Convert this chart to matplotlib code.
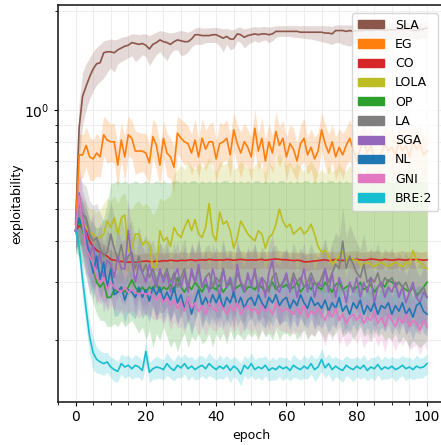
import matplotlib
matplotlib.use("Agg")
import matplotlib.pyplot as plt
import matplotlib.ticker as mticker
from matplotlib.patches import Patch
import numpy as np

epochs = list(range(0, 101))
labels = ["SLA", "EG", "CO", "LOLA", "OP", "LA", "SGA", "NL", "GNI", "BRE:2"]
colors = ["#8c564b", "#ff7f0e", "#d62728", "#bcbd22", "#2ca02c",
          "#7f7f7f", "#9467bd", "#1f77b4", "#e377c2", "#17becf"]

SLA = [0.45, 0.88, 1.10, 1.18, 1.26, 1.33, 1.38, 1.39, 1.49, 1.50,
       1.50, 1.49, 1.52, 1.54, 1.56, 1.57, 1.60, 1.59, 1.58, 1.59,
       1.57, 1.53, 1.58, 1.60, 1.63, 1.61, 1.60, 1.58, 1.61, 1.63,
       1.62, 1.61, 1.61, 1.64, 1.69, 1.69, 1.68, 1.68, 1.68, 1.69,
       1.69, 1.67, 1.65, 1.67, 1.64, 1.64, 1.70, 1.69, 1.66, 1.68,
       1.69, 1.70, 1.69, 1.70, 1.70, 1.69, 1.70, 1.73, 1.73, 1.73,
       1.73, 1.73, 1.73, 1.73, 1.72, 1.72, 1.72, 1.72, 1.72, 1.72,
       1.72, 1.71, 1.71, 1.70, 1.74, 1.74, 1.74, 1.73, 1.74, 1.73,
       1.74, 1.74, 1.74, 1.75, 1.74, 1.75, 1.75, 1.75, 1.74, 1.75,
       1.75, 1.75, 1.76, 1.75, 1.76, 1.76, 1.75, 1.74, 1.75, 1.76,
       1.77]
SLA_lo = [0.38, 0.70, 0.90, 1.00, 1.08, 1.14, 1.19, 1.22, 1.25, 1.30,
          1.34, 1.30, 1.38, 1.40, 1.42, 1.44, 1.46, 1.40, 1.43, 1.47,
          1.45, 1.36, 1.42, 1.47, 1.50, 1.45, 1.41, 1.48, 1.52, 1.52,
          1.46, 1.47, 1.50, 1.55, 1.58, 1.58, 1.58, 1.60, 1.60, 1.60,
          1.60, 1.56, 1.50, 1.58, 1.52, 1.54, 1.62, 1.60, 1.54, 1.58,
          1.60, 1.62, 1.60, 1.62, 1.63, 1.60, 1.62, 1.66, 1.67, 1.67,
          1.67, 1.67, 1.66, 1.66, 1.65, 1.65, 1.64, 1.64, 1.63, 1.62,
          1.61, 1.60, 1.59, 1.58, 1.60, 1.60, 1.58, 1.57, 1.56, 1.58,
          1.60, 1.62, 1.63, 1.64, 1.63, 1.64, 1.65, 1.64, 1.63, 1.64,
          1.64, 1.65, 1.66, 1.65, 1.66, 1.66, 1.65, 1.63, 1.64, 1.65,
          1.66]
SLA_hi = [0.52, 1.05, 1.30, 1.38, 1.44, 1.50, 1.55, 1.58, 1.62, 1.63,
          1.64, 1.63, 1.64, 1.66, 1.67, 1.68, 1.70, 1.70, 1.69, 1.70,
          1.70, 1.68, 1.70, 1.72, 1.74, 1.73, 1.72, 1.71, 1.72, 1.73,
          1.74, 1.73, 1.72, 1.74, 1.77, 1.78, 1.77, 1.77, 1.77, 1.78,
          1.78, 1.77, 1.76, 1.77, 1.75, 1.75, 1.78, 1.78, 1.76, 1.77,
          1.78, 1.79, 1.78, 1.79, 1.79, 1.78, 1.79, 1.80, 1.80, 1.80,
          1.80, 1.80, 1.80, 1.80, 1.80, 1.80, 1.80, 1.80, 1.80, 1.80,
          1.80, 1.80, 1.80, 1.79, 1.81, 1.81, 1.81, 1.81, 1.81, 1.81,
          1.82, 1.82, 1.82, 1.82, 1.82, 1.83, 1.83, 1.83, 1.82, 1.83,
          1.83, 1.83, 1.84, 1.83, 1.84, 1.84, 1.83, 1.83, 1.84, 1.85,
          1.86]

EG = [0.43, 0.73, 0.73, 0.78, 0.72, 0.71, 0.74, 0.72, 0.84, 0.81,
      0.80, 0.80, 0.68, 0.81, 0.72, 0.84, 0.82, 0.75, 0.75, 0.75,
      0.74, 0.69, 0.83, 0.78, 0.68, 0.82, 0.74, 0.72, 0.67, 0.85,
      0.82, 0.80, 0.79, 0.74, 0.81, 0.72, 0.82, 0.76, 0.80, 0.80,
      0.71, 0.79, 0.80, 0.82, 0.73, 0.87, 0.79, 0.74, 0.80, 0.77,
      0.72, 0.88, 0.75, 0.82, 0.70, 0.80, 0.74, 0.86, 0.78, 0.82,
      0.72, 0.79, 0.76, 0.70, 0.79, 0.82, 0.73, 0.77, 0.71, 0.75,
      0.87, 0.79, 0.74, 0.80, 0.72, 0.77, 0.73, 0.78, 0.82, 0.76,
      0.70, 0.76, 0.81, 0.74, 0.78, 0.71, 0.69, 0.74, 0.79, 0.75,
      0.77, 0.73, 0.80, 0.75, 0.78, 0.72, 0.80, 0.76, 0.79, 0.73,
      0.75]
EG_err = [0.06, 0.16, 0.15, 0.14, 0.15, 0.14, 0.15, 0.13, 0.14, 0.15,
          0.13, 0.14, 0.15, 0.13, 0.16, 0.14, 0.13, 0.15, 0.14, 0.13,
          0.15, 0.14, 0.13, 0.16, 0.14, 0.13, 0.15, 0.14, 0.16, 0.13,
          0.14, 0.15, 0.13, 0.14, 0.16, 0.13, 0.15, 0.14, 0.13, 0.15,
          0.14, 0.16, 0.13, 0.14, 0.15, 0.13, 0.14, 0.16, 0.14, 0.13,
          0.15, 0.14, 0.13, 0.15, 0.16, 0.14, 0.13, 0.15, 0.14, 0.13,
          0.15, 0.14, 0.16, 0.13, 0.14, 0.15, 0.13, 0.14, 0.16, 0.14,
          0.13, 0.15, 0.14, 0.13, 0.15, 0.14, 0.16, 0.13, 0.14, 0.15,
          0.14, 0.13, 0.15, 0.14, 0.16, 0.13, 0.14, 0.15, 0.13, 0.14,
          0.15, 0.14, 0.13, 0.15, 0.14, 0.16, 0.13, 0.14, 0.15, 0.14,
          0.13]

CO = [0.43, 0.445, 0.44, 0.43, 0.40, 0.385, 0.375, 0.37, 0.365, 0.36,
      0.352, 0.35, 0.348, 0.347, 0.346, 0.345, 0.346, 0.345, 0.346, 0.347,
      0.348, 0.347, 0.346, 0.348, 0.347, 0.349, 0.348, 0.350, 0.349, 0.348,
      0.350, 0.349, 0.350, 0.351, 0.349, 0.350, 0.351, 0.350, 0.352, 0.351,
      0.350, 0.351, 0.350, 0.352, 0.351, 0.350, 0.351, 0.352, 0.351, 0.350,
      0.351, 0.350, 0.351, 0.352, 0.350, 0.351, 0.352, 0.353, 0.352, 0.351,
      0.351, 0.350, 0.349, 0.350, 0.349, 0.346, 0.346, 0.347, 0.348, 0.349,
      0.350, 0.351, 0.349, 0.350, 0.352, 0.350, 0.349, 0.351, 0.352, 0.351,
      0.352, 0.351, 0.350, 0.351, 0.353, 0.352, 0.351, 0.350, 0.352, 0.351,
      0.350, 0.351, 0.352, 0.351, 0.350, 0.352, 0.351, 0.352, 0.351, 0.350,
      0.351]
CO_err = [0.12, 0.12, 0.12, 0.11, 0.10, 0.09, 0.08, 0.075, 0.07, 0.07,
          0.065, 0.06, 0.065, 0.06, 0.055, 0.06, 0.065, 0.06, 0.055, 0.06,
          0.06, 0.055, 0.06, 0.065, 0.06, 0.055, 0.06, 0.06, 0.055, 0.06,
          0.065, 0.06, 0.055, 0.06, 0.06, 0.055, 0.06, 0.065, 0.06, 0.055,
          0.06, 0.06, 0.055, 0.06, 0.065, 0.06, 0.055, 0.06, 0.06, 0.055,
          0.06, 0.065, 0.06, 0.055, 0.06, 0.06, 0.055, 0.06, 0.065, 0.06,
          0.055, 0.06, 0.06, 0.055, 0.06, 0.065, 0.06, 0.055, 0.06, 0.06,
          0.055, 0.06, 0.065, 0.06, 0.055, 0.06, 0.06, 0.055, 0.06, 0.065,
          0.06, 0.055, 0.06, 0.06, 0.055, 0.06, 0.065, 0.06, 0.055, 0.06,
          0.06, 0.055, 0.06, 0.065, 0.06, 0.055, 0.06, 0.06, 0.055, 0.06,
          0.06]

LOLA = [0.45, 0.47, 0.455, 0.44, 0.425, 0.42, 0.41, 0.41, 0.42, 0.46,
        0.44, 0.47, 0.42, 0.47, 0.48, 0.37, 0.38, 0.42, 0.42, 0.39,
        0.40, 0.39, 0.33, 0.335, 0.43, 0.40, 0.41, 0.385, 0.44, 0.42,
        0.41, 0.44, 0.465, 0.43, 0.465, 0.42, 0.41, 0.44, 0.52, 0.42,
        0.40, 0.49, 0.45, 0.46, 0.43, 0.38, 0.41, 0.46, 0.44, 0.42,
        0.41, 0.40, 0.43, 0.42, 0.38, 0.41, 0.42, 0.45, 0.50, 0.46,
        0.44, 0.45, 0.42, 0.43, 0.44, 0.42, 0.43, 0.45, 0.42, 0.385,
        0.37, 0.375, 0.36, 0.34, 0.35, 0.36, 0.37, 0.35, 0.36, 0.35,
        0.35, 0.34, 0.34, 0.345, 0.34, 0.335, 0.34, 0.345, 0.34, 0.335,
        0.34, 0.345, 0.34, 0.335, 0.345, 0.34, 0.375, 0.35, 0.345, 0.335,
        0.33]
LOLA_lo = [0.40, 0.40, 0.38, 0.36, 0.35, 0.34, 0.33, 0.32, 0.32, 0.31,
           0.31, 0.31, 0.30, 0.30, 0.31, 0.29, 0.29, 0.30, 0.30, 0.29,
           0.29, 0.28, 0.27, 0.27, 0.29, 0.29, 0.29, 0.28, 0.29, 0.29,
           0.29, 0.30, 0.29, 0.29, 0.30, 0.29, 0.28, 0.29, 0.30, 0.29,
           0.28, 0.30, 0.29, 0.30, 0.29, 0.28, 0.29, 0.30, 0.29, 0.29,
           0.29, 0.28, 0.29, 0.29, 0.28, 0.29, 0.29, 0.30, 0.30, 0.29,
           0.29, 0.30, 0.29, 0.29, 0.30, 0.29, 0.29, 0.30, 0.29, 0.28,
           0.28, 0.28, 0.28, 0.27, 0.28, 0.28, 0.28, 0.28, 0.28, 0.28,
           0.28, 0.27, 0.28, 0.28, 0.27, 0.28, 0.28, 0.28, 0.27, 0.28,
           0.28, 0.28, 0.27, 0.28, 0.28, 0.27, 0.29, 0.28, 0.28, 0.27,
           0.27]
LOLA_hi = [0.50, 0.56, 0.54, 0.52, 0.50, 0.50, 0.49, 0.50, 0.52, 0.54,
           0.53, 0.55, 0.52, 0.55, 0.56, 0.50, 0.50, 0.52, 0.53, 0.51,
           0.52, 0.51, 0.48, 0.50, 0.54, 0.53, 0.54, 0.55, 0.64, 0.66,
           0.68, 0.66, 0.70, 0.67, 0.66, 0.69, 0.67, 0.68, 0.72, 0.66,
           0.65, 0.70, 0.68, 0.69, 0.73, 0.66, 0.67, 0.70, 0.68, 0.67,
           0.66, 0.68, 0.70, 0.67, 0.64, 0.69, 0.67, 0.71, 0.74, 0.70,
           0.68, 0.70, 0.66, 0.69, 0.67, 0.65, 0.68, 0.70, 0.67, 0.64,
           0.66, 0.64, 0.68, 0.65, 0.66, 0.69, 0.66, 0.65, 0.68, 0.66,
           0.65, 0.66, 0.64, 0.66, 0.65, 0.64, 0.66, 0.65, 0.64, 0.66,
           0.65, 0.64, 0.66, 0.65, 0.64, 0.66, 0.68, 0.65, 0.64, 0.66,
           0.65]

OP = [0.43, 0.46, 0.43, 0.40, 0.37, 0.33, 0.30, 0.29, 0.30, 0.27,
      0.27, 0.285, 0.28, 0.29, 0.28, 0.29, 0.305, 0.29, 0.28, 0.29,
      0.28, 0.29, 0.285, 0.30, 0.28, 0.29, 0.285, 0.295, 0.28, 0.31,
      0.29, 0.28, 0.295, 0.285, 0.30, 0.29, 0.28, 0.295, 0.285, 0.29,
      0.285, 0.295, 0.28, 0.29, 0.30, 0.285, 0.29, 0.295, 0.28, 0.29,
      0.29, 0.285, 0.295, 0.29, 0.28, 0.29, 0.30, 0.285, 0.295, 0.29,
      0.295, 0.285, 0.29, 0.30, 0.28, 0.29, 0.295, 0.285, 0.30, 0.29,
      0.285, 0.30, 0.29, 0.28, 0.295, 0.30, 0.285, 0.29, 0.295, 0.285,
      0.29, 0.30, 0.285, 0.29, 0.295, 0.28, 0.29, 0.30, 0.29, 0.305,
      0.30, 0.295, 0.30, 0.29, 0.285, 0.28, 0.29, 0.275, 0.28, 0.29,
      0.30]
OP_lo = [0.37, 0.36, 0.34, 0.31, 0.28, 0.26, 0.24, 0.23, 0.23, 0.22,
         0.22, 0.225, 0.22, 0.23, 0.22, 0.225, 0.23, 0.22, 0.21, 0.22,
         0.20, 0.215, 0.19, 0.21, 0.20, 0.22, 0.205, 0.19, 0.20, 0.185,
         0.20, 0.21, 0.19, 0.205, 0.20, 0.21, 0.195, 0.20, 0.21, 0.19,
         0.21, 0.20, 0.21, 0.195, 0.215, 0.20, 0.21, 0.205, 0.20, 0.21,
         0.205, 0.21, 0.20, 0.215, 0.205, 0.21, 0.20, 0.215, 0.20, 0.21,
         0.21, 0.205, 0.215, 0.20, 0.21, 0.215, 0.20, 0.21, 0.205, 0.215,
         0.21, 0.20, 0.215, 0.205, 0.21, 0.22, 0.205, 0.21, 0.215, 0.20,
         0.21, 0.22, 0.205, 0.21, 0.20, 0.215, 0.205, 0.21, 0.20, 0.205,
         0.20, 0.21, 0.195, 0.205, 0.20, 0.19, 0.20, 0.195, 0.19, 0.195,
         0.20]
OP_hi = [0.50, 0.55, 0.53, 0.50, 0.47, 0.45, 0.44, 0.44, 0.47, 0.52,
         0.60, 0.60, 0.61, 0.60, 0.61, 0.60, 0.60, 0.61, 0.60, 0.60,
         0.61, 0.60, 0.60, 0.61, 0.60, 0.61, 0.60, 0.60, 0.61, 0.61,
         0.60, 0.61, 0.60, 0.61, 0.61, 0.60, 0.61, 0.60, 0.61, 0.60,
         0.61, 0.60, 0.61, 0.61, 0.60, 0.61, 0.60, 0.61, 0.60, 0.61,
         0.60, 0.61, 0.61, 0.60, 0.61, 0.60, 0.61, 0.60, 0.61, 0.61,
         0.60, 0.61, 0.60, 0.61, 0.60, 0.61, 0.61, 0.60, 0.61, 0.60,
         0.61, 0.60, 0.61, 0.61, 0.60, 0.61, 0.60, 0.61, 0.60, 0.61,
         0.60, 0.61, 0.61, 0.60, 0.61, 0.60, 0.61, 0.60, 0.61, 0.61,
         0.60, 0.61, 0.60, 0.61, 0.60, 0.61, 0.61, 0.60, 0.61, 0.60,
         0.61]

LA = [0.43, 0.52, 0.48, 0.47, 0.42, 0.40, 0.41, 0.38, 0.36, 0.37,
      0.42, 0.38, 0.35, 0.39, 0.34, 0.36, 0.37, 0.33, 0.36, 0.32,
      0.34, 0.31, 0.33, 0.30, 0.32, 0.31, 0.33, 0.30, 0.32, 0.29,
      0.31, 0.33, 0.29, 0.32, 0.30, 0.33, 0.29, 0.31, 0.32, 0.29,
      0.31, 0.30, 0.33, 0.29, 0.31, 0.28, 0.32, 0.30, 0.29, 0.31,
      0.30, 0.32, 0.29, 0.31, 0.30, 0.28, 0.31, 0.32, 0.29, 0.30,
      0.31, 0.29, 0.32, 0.30, 0.31, 0.29, 0.30, 0.32, 0.30, 0.29,
      0.31, 0.33, 0.30, 0.32, 0.34, 0.33, 0.40, 0.33, 0.36, 0.34,
      0.32, 0.31, 0.34, 0.30, 0.31, 0.30, 0.32, 0.29, 0.31, 0.30,
      0.31, 0.29, 0.30, 0.29, 0.30, 0.28, 0.29, 0.27, 0.28, 0.29,
      0.27]
LA_err = [0.15, 0.20, 0.25, 0.25, 0.26, 0.28, 0.27, 0.28, 0.28, 0.27,
          0.25, 0.26, 0.25, 0.24, 0.25, 0.24, 0.25, 0.24, 0.23, 0.24,
          0.23, 0.24, 0.22, 0.23, 0.24, 0.22, 0.23, 0.22, 0.24, 0.23,
          0.22, 0.24, 0.23, 0.22, 0.24, 0.22, 0.23, 0.24, 0.22, 0.23,
          0.24, 0.22, 0.23, 0.24, 0.22, 0.23, 0.22, 0.24, 0.23, 0.22,
          0.24, 0.23, 0.22, 0.24, 0.23, 0.22, 0.24, 0.22, 0.23, 0.24,
          0.22, 0.23, 0.24, 0.22, 0.23, 0.24, 0.22, 0.23, 0.22, 0.24,
          0.23, 0.24, 0.22, 0.24, 0.25, 0.24, 0.27, 0.24, 0.25, 0.24,
          0.23, 0.22, 0.24, 0.22, 0.23, 0.22, 0.24, 0.22, 0.23, 0.22,
          0.23, 0.22, 0.23, 0.22, 0.24, 0.22, 0.23, 0.22, 0.23, 0.22,
          0.22]

SGA = [0.43, 0.56, 0.46, 0.42, 0.36, 0.39, 0.33, 0.37, 0.31, 0.35,
       0.34, 0.31, 0.36, 0.33, 0.33, 0.43, 0.35, 0.30, 0.34, 0.32,
       0.30, 0.34, 0.31, 0.29, 0.33, 0.30, 0.32, 0.28, 0.31, 0.33,
       0.29, 0.32, 0.28, 0.33, 0.30, 0.34, 0.29, 0.31, 0.28, 0.33,
       0.30, 0.27, 0.33, 0.29, 0.31, 0.27, 0.34, 0.30, 0.28, 0.32,
       0.29, 0.33, 0.28, 0.31, 0.27, 0.32, 0.35, 0.29, 0.28, 0.30,
       0.32, 0.28, 0.31, 0.27, 0.30, 0.33, 0.28, 0.31, 0.27, 0.30,
       0.29, 0.33, 0.28, 0.32, 0.27, 0.31, 0.29, 0.26, 0.30, 0.28,
       0.31, 0.27, 0.30, 0.28, 0.31, 0.26, 0.29, 0.30, 0.27, 0.29,
       0.28, 0.30, 0.27, 0.29, 0.26, 0.28, 0.30, 0.27, 0.26, 0.28,
       0.27]
SGA_err = [0.15, 0.22, 0.24, 0.25, 0.24, 0.25, 0.23, 0.24, 0.22, 0.23,
           0.22, 0.21, 0.22, 0.21, 0.22, 0.24, 0.21, 0.20, 0.21, 0.20,
           0.21, 0.20, 0.19, 0.21, 0.20, 0.19, 0.21, 0.20, 0.19, 0.21,
           0.20, 0.21, 0.19, 0.20, 0.21, 0.19, 0.20, 0.21, 0.19, 0.20,
           0.21, 0.19, 0.20, 0.21, 0.19, 0.20, 0.21, 0.20, 0.19, 0.21,
           0.20, 0.19, 0.21, 0.20, 0.19, 0.21, 0.20, 0.19, 0.21, 0.20,
           0.19, 0.21, 0.20, 0.19, 0.21, 0.20, 0.19, 0.21, 0.20, 0.19,
           0.21, 0.20, 0.19, 0.21, 0.20, 0.19, 0.21, 0.20, 0.19, 0.21,
           0.20, 0.19, 0.21, 0.20, 0.19, 0.21, 0.20, 0.19, 0.21, 0.20,
           0.19, 0.21, 0.20, 0.19, 0.21, 0.20, 0.19, 0.21, 0.20, 0.19,
           0.20]

NL = [0.43, 0.47, 0.44, 0.40, 0.36, 0.32, 0.36, 0.305, 0.345, 0.29,
      0.33, 0.275, 0.28, 0.29, 0.265, 0.285, 0.28, 0.27, 0.29, 0.27,
      0.285, 0.263, 0.29, 0.275, 0.29, 0.265, 0.28, 0.265, 0.29, 0.26,
      0.275, 0.25, 0.27, 0.24, 0.265, 0.285, 0.255, 0.27, 0.255, 0.275,
      0.26, 0.275, 0.25, 0.27, 0.26, 0.28, 0.255, 0.27, 0.25, 0.265,
      0.27, 0.255, 0.275, 0.26, 0.25, 0.27, 0.26, 0.275, 0.255, 0.265,
      0.27, 0.25, 0.265, 0.255, 0.275, 0.26, 0.25, 0.27, 0.255, 0.26,
      0.25, 0.265, 0.245, 0.26, 0.25, 0.27, 0.245, 0.255, 0.24, 0.26,
      0.25, 0.265, 0.24, 0.255, 0.245, 0.26, 0.24, 0.255, 0.25, 0.26,
      0.24, 0.255, 0.245, 0.26, 0.24, 0.25, 0.235, 0.255, 0.26, 0.245,
      0.24]
NL_err = [0.12, 0.16, 0.17, 0.18, 0.17, 0.16, 0.17, 0.15, 0.16, 0.15,
          0.16, 0.14, 0.15, 0.14, 0.15, 0.14, 0.15, 0.14, 0.13, 0.14,
          0.15, 0.14, 0.13, 0.14, 0.15, 0.14, 0.13, 0.14, 0.15, 0.14,
          0.13, 0.14, 0.15, 0.14, 0.13, 0.14, 0.15, 0.14, 0.13, 0.14,
          0.15, 0.14, 0.13, 0.14, 0.15, 0.14, 0.13, 0.14, 0.15, 0.14,
          0.13, 0.14, 0.15, 0.14, 0.13, 0.14, 0.15, 0.14, 0.13, 0.14,
          0.15, 0.14, 0.13, 0.14, 0.15, 0.14, 0.13, 0.14, 0.15, 0.14,
          0.13, 0.14, 0.15, 0.14, 0.13, 0.14, 0.15, 0.14, 0.13, 0.14,
          0.15, 0.14, 0.13, 0.14, 0.15, 0.14, 0.13, 0.14, 0.15, 0.14,
          0.13, 0.14, 0.15, 0.14, 0.13, 0.14, 0.15, 0.14, 0.13, 0.14,
          0.14]

GNI = [0.43, 0.55, 0.45, 0.38, 0.36, 0.34, 0.31, 0.30, 0.31, 0.285,
       0.30, 0.29, 0.285, 0.28, 0.29, 0.28, 0.285, 0.28, 0.275, 0.28,
       0.275, 0.28, 0.27, 0.265, 0.275, 0.26, 0.27, 0.255, 0.265, 0.25,
       0.26, 0.245, 0.27, 0.25, 0.26, 0.245, 0.255, 0.24, 0.26, 0.25,
       0.245, 0.26, 0.25, 0.24, 0.255, 0.245, 0.26, 0.24, 0.25, 0.255,
       0.245, 0.25, 0.24, 0.255, 0.245, 0.25, 0.24, 0.26, 0.25, 0.245,
       0.25, 0.245, 0.24, 0.25, 0.24, 0.255, 0.235, 0.245, 0.24, 0.25,
       0.24, 0.23, 0.245, 0.235, 0.25, 0.23, 0.24, 0.225, 0.235, 0.24,
       0.23, 0.24, 0.225, 0.235, 0.23, 0.245, 0.225, 0.235, 0.22, 0.24,
       0.23, 0.22, 0.235, 0.225, 0.24, 0.22, 0.23, 0.225, 0.215, 0.23,
       0.22]
GNI_err = [0.12, 0.18, 0.17, 0.16, 0.15, 0.16, 0.15, 0.14, 0.15, 0.14,
           0.15, 0.14, 0.13, 0.14, 0.15, 0.14, 0.13, 0.14, 0.15, 0.14,
           0.13, 0.15, 0.14, 0.13, 0.15, 0.14, 0.13, 0.16, 0.14, 0.13,
           0.15, 0.14, 0.13, 0.15, 0.14, 0.16, 0.13, 0.14, 0.15, 0.14,
           0.13, 0.15, 0.14, 0.16, 0.13, 0.14, 0.15, 0.14, 0.13, 0.15,
           0.14, 0.13, 0.15, 0.14, 0.16, 0.13, 0.14, 0.15, 0.14, 0.13,
           0.15, 0.14, 0.13, 0.15, 0.16, 0.14, 0.13, 0.15, 0.14, 0.13,
           0.15, 0.16, 0.14, 0.15, 0.13, 0.16, 0.14, 0.15, 0.16, 0.14,
           0.15, 0.14, 0.16, 0.15, 0.14, 0.16, 0.15, 0.14, 0.17, 0.15,
           0.14, 0.16, 0.15, 0.14, 0.16, 0.15, 0.17, 0.14, 0.16, 0.15,
           0.15]

BRE = [0.43, 0.385, 0.305, 0.248, 0.205, 0.183, 0.175, 0.172, 0.170, 0.172,
       0.166, 0.163, 0.161, 0.170, 0.166, 0.168, 0.164, 0.168, 0.166, 0.162,
       0.185, 0.160, 0.164, 0.166, 0.165, 0.163, 0.170, 0.165, 0.162, 0.168,
       0.165, 0.170, 0.164, 0.167, 0.163, 0.166, 0.168, 0.164, 0.170, 0.166,
       0.163, 0.167, 0.164, 0.168, 0.162, 0.167, 0.164, 0.158, 0.168, 0.164,
       0.170, 0.163, 0.166, 0.164, 0.168, 0.162, 0.165, 0.163, 0.167, 0.164,
       0.166, 0.162, 0.168, 0.165, 0.163, 0.167, 0.164, 0.170, 0.163, 0.166,
       0.175, 0.165, 0.170, 0.163, 0.167, 0.164, 0.162, 0.168, 0.165, 0.163,
       0.167, 0.164, 0.168, 0.162, 0.166, 0.164, 0.169, 0.163, 0.166, 0.164,
       0.167, 0.163, 0.165, 0.168, 0.164, 0.166, 0.163, 0.167, 0.165, 0.166,
       0.170]
BRE_err = [0.08, 0.10, 0.12, 0.12, 0.12, 0.11, 0.09, 0.08, 0.08, 0.07,
           0.07, 0.08, 0.07, 0.07, 0.08, 0.07, 0.07, 0.08, 0.07, 0.07,
           0.08, 0.07, 0.07, 0.08, 0.07, 0.07, 0.08, 0.07, 0.07, 0.08,
           0.07, 0.07, 0.08, 0.07, 0.07, 0.08, 0.07, 0.07, 0.08, 0.07,
           0.07, 0.08, 0.07, 0.07, 0.08, 0.07, 0.07, 0.08, 0.07, 0.07,
           0.08, 0.07, 0.07, 0.08, 0.07, 0.07, 0.08, 0.07, 0.07, 0.08,
           0.07, 0.07, 0.08, 0.07, 0.07, 0.08, 0.07, 0.07, 0.08, 0.07,
           0.08, 0.07, 0.07, 0.08, 0.07, 0.07, 0.08, 0.07, 0.07, 0.08,
           0.07, 0.07, 0.08, 0.07, 0.07, 0.08, 0.07, 0.07, 0.08, 0.07,
           0.07, 0.08, 0.07, 0.07, 0.08, 0.07, 0.07, 0.08, 0.07, 0.07,
           0.07]


def rel_band(m, e):
    m = np.asarray(m); e = np.asarray(e)
    return m * (1 - e), m * (1 + e)


series = [
    (SLA, SLA_lo, SLA_hi),
    (EG, *rel_band(EG, EG_err)),
    (CO, *rel_band(CO, CO_err)),
    (LOLA, LOLA_lo, LOLA_hi),
    (OP, OP_lo, OP_hi),
    (LA, *rel_band(LA, LA_err)),
    (SGA, *rel_band(SGA, SGA_err)),
    (NL, *rel_band(NL, NL_err)),
    (GNI, *rel_band(GNI, GNI_err)),
    (BRE, *rel_band(BRE, BRE_err)),
]

fig = plt.figure(figsize=(4.41, 4.45), dpi=100)
ax = fig.add_axes([58 / 441, 1 - 402 / 445, (444.6 - 58) / 441, (402 - 5) / 445])

for (m, lo, hi), c in zip(series, colors):
    ax.fill_between(epochs, lo, hi, color=c, alpha=0.22, linewidth=0)
for (m, lo, hi), c in zip(series, colors):
    ax.plot(epochs, m, color=c, linewidth=1.2)

ax.set_yscale("log")
ax.set_xlim(-5, 105)
ax.set_ylim(0.13, 2.08)
ax.xaxis.set_major_locator(mticker.MultipleLocator(20))
ax.xaxis.set_minor_locator(mticker.MultipleLocator(5))
ax.yaxis.set_minor_formatter(mticker.NullFormatter())
ax.grid(True, which="both", color="#eeeeee", linewidth=0.8)
ax.set_axisbelow(True)
ax.tick_params(axis="both", which="major", labelsize=10, length=3, pad=3,
               direction="out")
ax.tick_params(axis="both", which="minor", length=2, direction="out")
for s in ["left", "top", "bottom"]:
    ax.spines[s].set_color("#222222")
    ax.spines[s].set_linewidth(1.2)
ax.spines["right"].set_visible(False)

ax.set_xlabel("epoch", fontsize=9, labelpad=3)
ax.set_ylabel("exploitability", fontsize=9, labelpad=1)

handles = [Patch(facecolor=c, edgecolor=c) for c in colors]
ax.legend(handles, labels, loc="upper right", fontsize=9, labelspacing=0.5,
          handlelength=2.1, handleheight=0.65, handletextpad=0.9,
          borderpad=0.45, borderaxespad=0, framealpha=0.8,
          bbox_to_anchor=((438 - 58) / 386.6, (402 - 13) / 397),
          bbox_transform=ax.transAxes)

fig.savefig("out.png", dpi=100)
